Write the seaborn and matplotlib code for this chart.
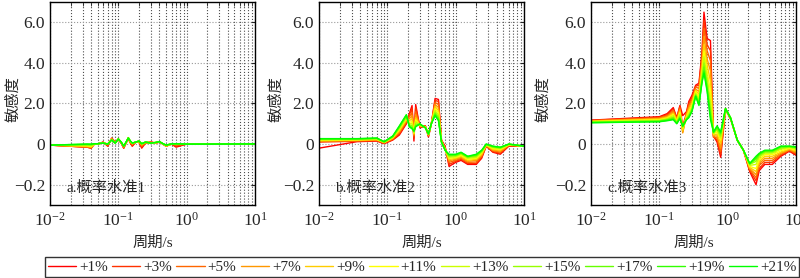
import numpy as np
import pandas as pd
import matplotlib
matplotlib.use("Agg")
import matplotlib.pyplot as plt
from matplotlib.colors import LinearSegmentedColormap
import seaborn as sns

# Niveles de incremento
niveles = ["+1%", "+3%", "+5%", "+7%", "+9%", "+11%", "+13%", "+15%", "+17%", "+19%", "+21%"]

# Panel a (概率水准1)
pa = [0.01, 0.035, 0.04, 0.045, 0.05, 0.06, 0.07, 0.08, 0.09, 0.1, 0.11, 0.12, 0.13, 0.14, 0.15,
      0.16, 0.18, 0.2, 0.22, 0.25, 0.3, 0.35, 0.4, 0.45, 0.5, 0.6, 0.7, 1.0, 2.0, 10.0]
a1 = [-0.005, -0.015, -0.02, 0.02, 0.0, 0.1, -0.01, 0.3, 0.1, 0.2, 0.05, -0.02, 0.05, 0.25, 0.05, -0.01, 0.1, 0.1, -0.02, 0.05, 0.1, 0.05, 0.1, 0.0, -0.01, 0.0, -0.015, 0.0, 0.0, 0.01]
a3 = [-0.005, -0.015, -0.02, 0.02, 0.0, 0.1, -0.01, 0.28, 0.1, 0.22, 0.06, -0.02, 0.06, 0.28, 0.06, -0.01, 0.1, 0.1, -0.015, 0.06, 0.1, 0.05, 0.1, 0.0, -0.01, 0.0, -0.01, 0.0, 0.0, 0.01]
a5 = [-0.005, -0.015, -0.018, 0.02, 0.005, 0.09, -0.005, 0.26, 0.09, 0.24, 0.07, -0.015, 0.07, 0.3, 0.08, 0.0, 0.1, 0.12, -0.01, 0.07, 0.09, 0.06, 0.1, 0.0, -0.01, 0.005, -0.005, 0.0, 0.0, 0.01]
a7 = [-0.005, -0.012, -0.016, 0.02, 0.01, 0.08, 0.0, 0.25, 0.08, 0.25, 0.08, -0.015, 0.08, 0.32, 0.1, 0.01, 0.1, 0.12, -0.005, 0.08, 0.08, 0.06, 0.11, 0.01, -0.01, 0.005, 0.0, 0.0, 0.0, 0.01]
a9 = [-0.005, -0.01, -0.014, 0.02, 0.01, 0.07, 0.0, 0.24, 0.07, 0.26, 0.09, -0.01, 0.08, 0.32, 0.11, 0.02, 0.1, 0.13, 0.0, 0.08, 0.07, 0.07, 0.11, 0.01, -0.008, 0.008, 0.005, 0.0, 0.0, 0.01]
a11 = [-0.005, -0.008, -0.012, 0.02, 0.015, 0.06, 0.0, 0.23, 0.06, 0.26, 0.09, -0.01, 0.09, 0.32, 0.12, 0.03, 0.1, 0.14, 0.005, 0.09, 0.06, 0.07, 0.12, 0.015, -0.008, 0.01, 0.01, 0.0, 0.0, 0.01]
a13 = [-0.005, -0.006, -0.01, 0.02, 0.015, 0.06, 0.0, 0.22, 0.06, 0.26, 0.1, -0.01, 0.09, 0.31, 0.13, 0.04, 0.1, 0.14, 0.01, 0.09, 0.06, 0.07, 0.12, 0.015, -0.007, 0.01, 0.015, 0.0, 0.0, 0.01]
a15 = [-0.005, -0.004, -0.006, 0.02, 0.02, 0.055, 0.0, 0.21, 0.055, 0.25, 0.1, -0.01, 0.1, 0.31, 0.14, 0.04, 0.1, 0.15, 0.015, 0.1, 0.055, 0.08, 0.12, 0.02, -0.006, 0.01, 0.015, 0.0, 0.0, 0.01]
a17 = [-0.005, -0.002, -0.003, 0.02, 0.02, 0.05, 0.0, 0.21, 0.05, 0.25, 0.1, -0.01, 0.1, 0.3, 0.15, 0.05, 0.1, 0.15, 0.02, 0.1, 0.05, 0.08, 0.12, 0.02, -0.005, 0.01, 0.02, 0.0, 0.0, 0.01]
a19 = [-0.005, 0.0, -0.001, 0.02, 0.02, 0.05, 0.0, 0.2, 0.05, 0.25, 0.1, -0.01, 0.1, 0.3, 0.15, 0.05, 0.1, 0.15, 0.02, 0.1, 0.05, 0.08, 0.12, 0.02, -0.005, 0.01, 0.02, 0.0, 0.0, 0.01]
a21 = [-0.005, 0.0, 0.0, 0.02, 0.02, 0.05, 0.0, 0.2, 0.05, 0.25, 0.1, -0.01, 0.1, 0.3, 0.15, 0.05, 0.1, 0.15, 0.02, 0.1, 0.05, 0.08, 0.12, 0.02, -0.005, 0.01, 0.02, 0.0, 0.0, 0.01]

# Panel b (概率水准2)
pb = [0.01, 0.036, 0.07, 0.09, 0.12, 0.15, 0.19, 0.21, 0.23, 0.245, 0.26, 0.3, 0.36, 0.4, 0.44,
      0.5, 0.56, 0.62, 0.7, 0.8, 1.0, 1.2, 1.5, 2.0, 2.4, 2.8, 3.5, 4.5, 6.0, 10.0]
b1 = [-0.02, 0.12, 0.15, 0.02, 0.2, 0.45, 1.0, 1.5, 1.9, 0.15, 1.95, 0.8, 0.9, 0.35, 1.0, 2.25, 2.2, 0.2, -0.01, -0.11, -0.09, -0.08, -0.1, -0.1, -0.07, -0.01, -0.04, -0.05, -0.01, -0.01]
b3 = [0.1, 0.14, 0.17, 0.04, 0.22, 0.5, 1.05, 1.45, 1.75, 0.3, 1.8, 0.82, 0.9, 0.4, 1.0, 2.15, 2.1, 0.18, -0.015, -0.1, -0.085, -0.075, -0.095, -0.095, -0.065, -0.01, -0.037, -0.045, -0.008, -0.01]
b5 = [0.13, 0.16, 0.19, 0.06, 0.25, 0.56, 1.1, 1.35, 1.55, 0.4, 1.6, 0.85, 0.88, 0.42, 1.0, 2.05, 1.95, 0.16, -0.02, -0.09, -0.08, -0.07, -0.09, -0.088, -0.06, -0.008, -0.033, -0.04, -0.006, -0.01]
b7 = [0.15, 0.18, 0.21, 0.07, 0.28, 0.62, 1.15, 1.25, 1.4, 0.45, 1.45, 0.88, 0.86, 0.44, 1.0, 1.95, 1.8, 0.15, -0.022, -0.082, -0.075, -0.065, -0.085, -0.08, -0.055, -0.006, -0.03, -0.035, -0.005, -0.01]
b9 = [0.17, 0.2, 0.22, 0.08, 0.3, 0.67, 1.2, 1.15, 1.25, 0.5, 1.3, 0.9, 0.85, 0.46, 1.0, 1.85, 1.65, 0.14, -0.025, -0.076, -0.07, -0.06, -0.08, -0.075, -0.05, -0.005, -0.026, -0.03, -0.004, -0.01]
b11 = [0.19, 0.21, 0.24, 0.09, 0.32, 0.72, 1.25, 1.08, 1.1, 0.54, 1.2, 0.92, 0.84, 0.47, 1.0, 1.75, 1.55, 0.13, -0.026, -0.07, -0.066, -0.055, -0.075, -0.07, -0.045, -0.004, -0.022, -0.026, -0.003, -0.01]
b13 = [0.21, 0.22, 0.25, 0.1, 0.34, 0.76, 1.3, 1.0, 1.0, 0.57, 1.1, 0.94, 0.83, 0.48, 1.0, 1.65, 1.45, 0.12, -0.027, -0.065, -0.062, -0.05, -0.07, -0.065, -0.04, -0.003, -0.018, -0.023, -0.002, -0.01]
b15 = [0.23, 0.24, 0.27, 0.11, 0.36, 0.8, 1.35, 0.95, 0.9, 0.6, 1.0, 0.96, 0.82, 0.49, 1.0, 1.57, 1.35, 0.11, -0.028, -0.06, -0.058, -0.047, -0.066, -0.06, -0.037, -0.002, -0.015, -0.02, -0.001, -0.01]
b17 = [0.24, 0.25, 0.28, 0.11, 0.37, 0.84, 1.4, 0.9, 0.82, 0.62, 0.93, 0.98, 0.81, 0.5, 1.0, 1.5, 1.27, 0.1, -0.029, -0.056, -0.055, -0.044, -0.063, -0.056, -0.034, -0.001, -0.013, -0.018, 0.0, -0.01]
b19 = [0.26, 0.26, 0.29, 0.12, 0.38, 0.87, 1.43, 0.87, 0.78, 0.64, 0.88, 0.99, 0.8, 0.5, 1.0, 1.44, 1.2, 0.1, -0.03, -0.053, -0.052, -0.042, -0.061, -0.053, -0.032, 0.0, -0.011, -0.016, 0.0, -0.01]
b21 = [0.27, 0.27, 0.3, 0.12, 0.4, 0.9, 1.45, 0.85, 0.75, 0.65, 0.85, 1.0, 0.8, 0.5, 1.0, 1.4, 1.15, 0.1, -0.03, -0.05, -0.05, -0.04, -0.06, -0.05, -0.03, 0.0, -0.01, -0.015, 0.0, -0.01]

# Panel c (概率水准3)
pc = [0.01, 0.1, 0.13, 0.16, 0.18, 0.2, 0.22, 0.25, 0.27, 0.3, 0.34, 0.38, 0.42, 0.45, 0.5, 0.56,
      0.62, 0.7, 0.79, 0.93, 1.1, 1.38, 1.7, 2.1, 2.6, 2.9, 3.5, 4.5, 6.0, 8.0, 10.0]
c1 = [1.18, 1.35, 1.5, 1.8, 1.3, 1.9, 1.4, 1.6, 2.1, 2.4, 2.9, 3.0, 4.5, 6.5, 5.2, 5.1, 0.4, 0.1, -0.065, 1.7, 1.25, 0.2, -0.03, -0.135, -0.2, -0.13, -0.1, -0.1, -0.06, -0.035, -0.055]
c3 = [1.17, 1.32, 1.45, 1.72, 1.27, 1.85, 0.9, 1.55, 2.0, 2.3, 2.85, 2.9, 4.3, 6.1, 4.9, 4.6, 0.35, 0.2, -0.05, 1.7, 1.26, 0.2, -0.03, -0.13, -0.18, -0.12, -0.09, -0.09, -0.055, -0.032, -0.05]
c5 = [1.15, 1.29, 1.4, 1.65, 1.24, 1.78, 0.6, 1.5, 1.9, 2.2, 2.8, 2.75, 4.1, 5.7, 4.6, 4.1, 0.35, 0.3, -0.035, 1.71, 1.27, 0.2, -0.03, -0.125, -0.165, -0.105, -0.08, -0.08, -0.05, -0.03, -0.045]
c7 = [1.14, 1.26, 1.36, 1.58, 1.2, 1.7, 0.55, 1.45, 1.8, 2.1, 2.7, 2.6, 3.9, 5.3, 4.2, 3.6, 0.4, 0.4, -0.02, 1.72, 1.28, 0.2, -0.03, -0.12, -0.15, -0.095, -0.07, -0.07, -0.045, -0.027, -0.04]
c9 = [1.12, 1.23, 1.32, 1.52, 1.17, 1.62, 0.65, 1.4, 1.7, 2.0, 2.65, 2.45, 3.7, 4.9, 3.9, 3.1, 0.45, 0.5, 0.05, 1.73, 1.28, 0.2, -0.03, -0.115, -0.135, -0.085, -0.06, -0.06, -0.04, -0.024, -0.035]
c11 = [1.11, 1.2, 1.28, 1.46, 1.14, 1.55, 0.75, 1.35, 1.6, 1.9, 2.6, 2.3, 3.5, 4.6, 3.6, 2.6, 0.5, 0.6, 0.2, 1.74, 1.29, 0.2, -0.03, -0.11, -0.12, -0.075, -0.052, -0.052, -0.033, -0.02, -0.03]
c13 = [1.1, 1.17, 1.25, 1.4, 1.1, 1.45, 0.8, 1.3, 1.5, 1.8, 2.5, 2.2, 3.35, 4.3, 3.3, 2.1, 0.52, 0.7, 0.3, 1.74, 1.3, 0.2, -0.03, -0.105, -0.1, -0.065, -0.045, -0.045, -0.025, -0.017, -0.025]
c15 = [1.08, 1.15, 1.22, 1.33, 1.07, 1.38, 0.85, 1.26, 1.42, 1.72, 2.45, 2.1, 3.2, 4.0, 3.0, 1.8, 0.55, 0.75, 0.4, 1.75, 1.3, 0.2, -0.03, -0.1, -0.085, -0.058, -0.04, -0.04, -0.02, -0.014, -0.02]
c17 = [1.07, 1.13, 1.19, 1.28, 1.04, 1.32, 0.87, 1.23, 1.37, 1.66, 2.4, 2.0, 3.1, 3.8, 2.8, 1.5, 0.57, 0.8, 0.5, 1.75, 1.3, 0.2, -0.03, -0.098, -0.075, -0.052, -0.036, -0.036, -0.015, -0.012, -0.017]
c19 = [1.06, 1.11, 1.17, 1.23, 1.02, 1.28, 0.88, 1.21, 1.33, 1.62, 2.37, 1.95, 3.05, 3.6, 2.7, 1.35, 0.59, 0.85, 0.55, 1.75, 1.3, 0.2, -0.03, -0.096, -0.067, -0.048, -0.033, -0.033, -0.012, -0.011, -0.015]
c21 = [1.05, 1.1, 1.15, 1.2, 1.0, 1.25, 0.9, 1.2, 1.3, 1.6, 2.35, 1.9, 3.0, 3.5, 2.6, 1.2, 0.6, 0.9, 0.6, 1.75, 1.3, 0.2, -0.03, -0.095, -0.06, -0.045, -0.03, -0.03, -0.01, -0.01, -0.013]

paineis = [
    ("a.概率水准1", pa, [a1, a3, a5, a7, a9, a11, a13, a15, a17, a19, a21]),
    ("b.概率水准2", pb, [b1, b3, b5, b7, b9, b11, b13, b15, b17, b19, b21]),
    ("c.概率水准3", pc, [c1, c3, c5, c7, c9, c11, c13, c15, c17, c19, c21]),
]

# Estilo
sns.set_style("white")
plt.rcParams["font.family"] = ["Liberation Serif", "Noto Sans CJK SC"]
plt.rcParams["mathtext.fontset"] = "stix"
plt.rcParams["axes.unicode_minus"] = True

cmap = LinearSegmentedColormap.from_list("ryg", ["#ff0000", "#ffff00", "#00ff00"])
cores = [cmap(i / 10) for i in range(11)]

# eixo y: parte negativa ampliada 10x
def fwd(y):
    y = np.asarray(y, dtype=float)
    return np.where(y < 0, 10 * y, y)

def inv(y):
    y = np.asarray(y, dtype=float)
    return np.where(y < 0, y / 10, y)

fig = plt.figure(figsize=(8, 2.78), dpi=100)
lefts = [50 / 800, 319 / 800, 591 / 800]
ylab_x = [-0.146, -0.176, -0.2]
axes = [fig.add_axes([l, 1 - 205 / 278, 205 / 800, 203 / 278]) for l in lefts]

for ax, (titulo, periodo, series), lx in zip(axes, paineis, ylab_x):
    linhas = []
    for nivel, vals in zip(niveles, series):
        linhas.append(pd.DataFrame({"periodo": periodo, "sens": vals, "nivel": nivel}))
    df = pd.concat(linhas, ignore_index=True)

    sns.lineplot(data=df, x="periodo", y="sens", hue="nivel", hue_order=niveles,
                 palette=cores, estimator=None, linewidth=1.0, ax=ax, legend=True)

    ax.set_xscale("log")
    ax.set_yscale("function", functions=(fwd, inv))
    ax.set_xlim(1e-2, 1e1)
    ax.set_ylim(-0.3, 7)
    ax.set_yticks([-0.2, 0, 2, 4, 6])
    ax.set_yticklabels(["\u22120.2", "0", "2.0", "4.0", "6.0"])
    ax.set_xticks([1e-2, 1e-1, 1e0, 1e1])

    ax.grid(which="both", axis="x", ls=":", color="0.3", lw=0.8)
    ax.grid(which="major", axis="y", ls=":", color="0.6", lw=0.8)
    ax.tick_params(axis="both", which="both", direction="in", top=True, right=True,
                   labelsize=12.5, length=3)
    ax.tick_params(axis="x", which="major", pad=5)
    for s in ax.spines.values():
        s.set_color("black")
        s.set_linewidth(1.0)

    ax.set_xlabel("周期/s", fontsize=11, labelpad=4)
    ax.set_ylabel("敏感度", fontsize=11)
    ax.yaxis.set_label_coords(lx, 0.52)
    ax.text(0.08, 0.085, titulo, transform=ax.transAxes, fontsize=11, va="center", ha="left")

handles, labels = axes[0].get_legend_handles_labels()
for ax in axes:
    ax.get_legend().remove()

fig.legend(handles, labels, loc="center", bbox_to_anchor=(422 / 800, 1 - 267 / 278), ncol=11,
           frameon=True, fancybox=False, edgecolor="black", fontsize=11,
           handlelength=1.85, handletextpad=0.2, columnspacing=0.28, borderpad=0.2,
           borderaxespad=0)

fig.savefig("out.png", dpi=100)
